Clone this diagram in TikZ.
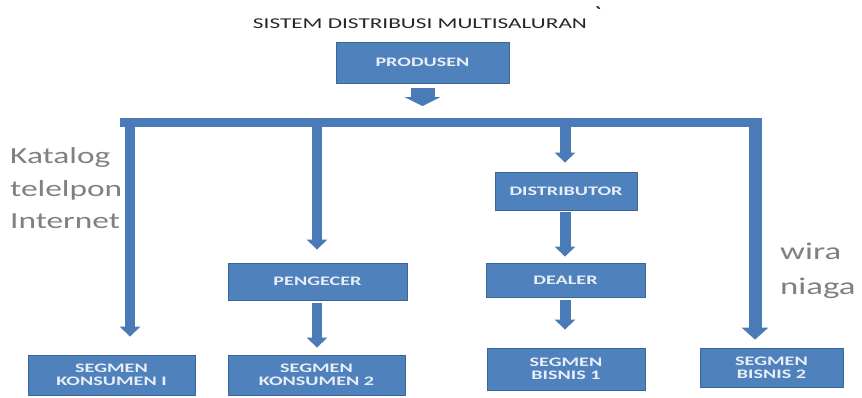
\documentclass[tikz,border=0pt]{standalone}
\usepackage{fontspec}
\setmainfont{Carlito}
\newfontfamily\titlefont[FakeStretch=1.55]{Carlito}
\newfontfamily\boxfont[FakeStretch=1.55]{Carlito}
\newfontfamily\sidefont[FakeStretch=1.45]{Carlito}
\usetikzlibrary{arrows.meta}
\definecolor{boxblue}{HTML}{4F81BD}
\definecolor{boxedge}{HTML}{3A6699}
\definecolor{arrowblue}{HTML}{4A7AB8}
\definecolor{boxtext}{HTML}{E8EEF7}
\definecolor{labelgray}{HTML}{808080}
\tikzset{
  box/.style={draw=boxedge, line width=0.8pt, fill=boxblue, text=boxtext,
    font=\boxfont\bfseries\fontsize{13}{13}\selectfont, align=center, inner sep=0pt},
  shaft/.style={line width=#1, color=arrowblue},
  tipA/.style={-{Triangle[width=20pt,length=10pt]}},
  tipB/.style={-{Triangle[width=26pt,length=12pt]}},
  tipC/.style={-{Triangle[width=36pt,length=9pt]}},
  side/.style={text=labelgray, font=\sidefont\fontsize{23}{26}\selectfont, anchor=west, inner sep=0pt}
}
\begin{document}
\begin{tikzpicture}[x=1pt,y=-1pt]
\useasboundingbox (0,0) rectangle (862,397);
% title
\node[font=\titlefont\fontsize{15}{16}\selectfont, text=black!85] (title) at (420,24) {SISTEM DISTRIBUSI MULTISALURAN};
\node[font=\bfseries\fontsize{20}{20}\selectfont, inner sep=0pt, text=black!85] (tick) at (598,14) {\textasciigrave};
% boxes
\node[box, minimum width=173pt, minimum height=41pt] (prod) at (422.5,62.5) {PRODUSEN};
\node[box, minimum width=179pt, minimum height=37pt] (peng) at (317.5,281.5) {PENGECER};
\node[box, minimum width=167pt, minimum height=40pt] (sk1) at (111.5,375) {SEGMEN\\KONSUMEN I};
\node[box, minimum width=177pt, minimum height=40pt] (sk2) at (316.5,375) {SEGMEN\\KONSUMEN 2};
\node[box, minimum width=142pt, minimum height=38pt] (dist) at (566,191) {DISTRIBUTOR};
\node[box, minimum width=159pt, minimum height=34pt] (deal) at (565.5,280) {DEALER};
\node[box, minimum width=158pt, minimum height=42pt] (sb1) at (566,369) {SEGMEN\\BISNIS 1};
\node[box, minimum width=143pt, minimum height=39pt] (sb2) at (771.5,367.5) {SEGMEN\\BISNIS 2};
% bar
\coordinate (barL) at (120,122);
\coordinate (barR) at (762,122);
\coordinate (c1) at (130,118);
\coordinate (c2) at (317,118);
\coordinate (c3) at (565,118);
\coordinate (c4) at (755,118);
\draw[shaft=9pt] (barL) -- (barR);
% arrows
\draw[shaft=24pt, tipC, shorten <=5pt, shorten >=12pt] (prod.south) -- (prod.south |- c2);
\draw[shaft=10pt, tipA, shorten >=18pt] (c1) -- (c1 |- sk1.north);
\draw[shaft=10pt, tipA, shorten >=13pt] (c2) -- (c2 |- peng.north);
\draw[shaft=10pt, tipA, shorten <=3pt, shorten >=7pt] (peng.south -| c2) -- (c2 |- sk2.north);
\draw[shaft=11pt, tipA, shorten >=9pt] (c3) -- (c3 |- dist.north);
\draw[shaft=11pt, tipA, shorten <=2pt, shorten >=6pt] (dist.south -| c3) -- (c3 |- deal.north);
\draw[shaft=11pt, tipA, shorten <=3pt, shorten >=18pt] (deal.south -| c3) -- (c3 |- sb1.north);
\draw[shaft=13pt, tipB, shorten >=8pt] (c4) -- (c4 |- sb2.north);
% side labels
\node[side] (kat) at (10,157) {Katalog};
\node[side] (tel) at (10,190) {telelpon};
\node[side] (int) at (10,221) {Internet};
\node[side, font=\sidefont\fontsize{24}{26}\selectfont] (wira) at (780,251) {wira};
\node[side, font=\sidefont\fontsize{24}{26}\selectfont] (niaga) at (780,288) {niaga};
\end{tikzpicture}
\end{document}
